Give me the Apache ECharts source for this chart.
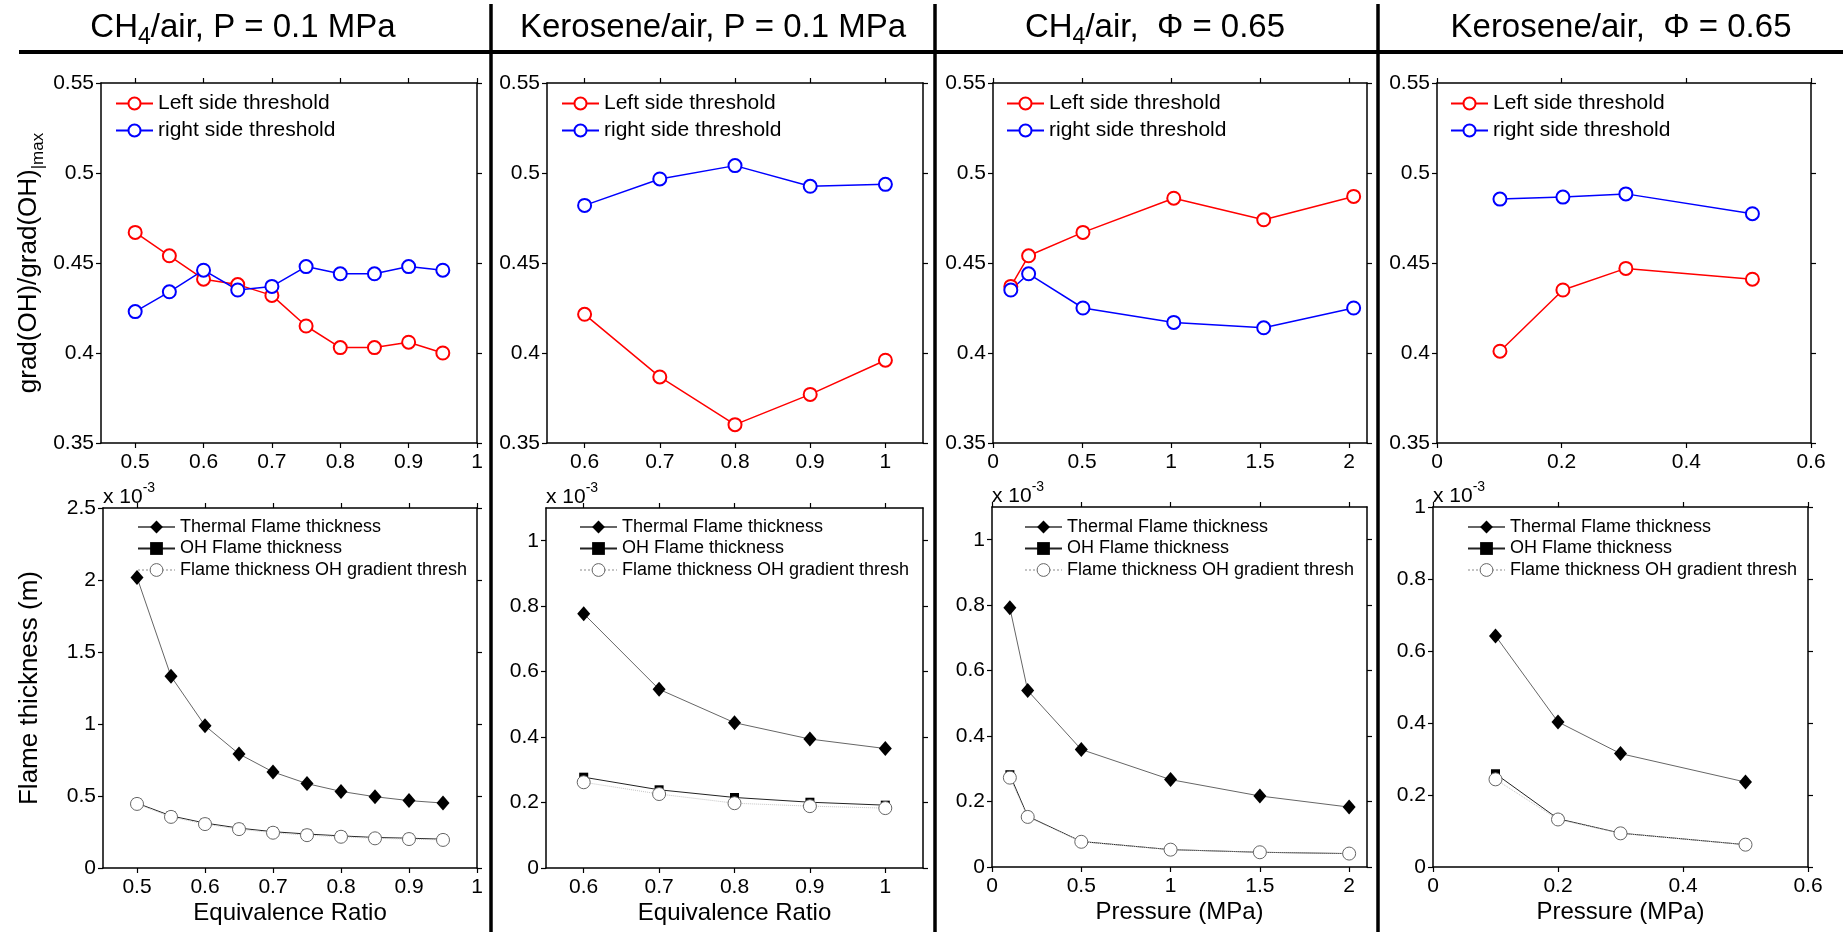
<!DOCTYPE html>
<html><head><meta charset="utf-8">
<script src="https://cdn.jsdelivr.net/npm/echarts@6/dist/echarts.min.js"></script>
<style>html,body{margin:0;padding:0;background:#fff}#c{width:1843px;height:932px}</style>
</head><body><div id="c"></div>
<script>
// ================= DATA =================
// Panel 1: CH4/air, P = 0.1 MPa (x: equivalence ratio)
const phiCH4 = [0.5, 0.55, 0.6, 0.65, 0.7, 0.75, 0.8, 0.85, 0.9, 0.95];
const ch4PhiLeft = [0.467, 0.454, 0.441, 0.438, 0.432, 0.415, 0.403, 0.403, 0.406, 0.400];
const ch4PhiRight = [0.423, 0.434, 0.446, 0.435, 0.437, 0.448, 0.444, 0.444, 0.448, 0.446];
const ch4PhiThermal = [2.018, 1.331, 0.988, 0.792, 0.667, 0.586, 0.532, 0.495, 0.468, 0.451];
const ch4PhiOH = [0.450, 0.362, 0.312, 0.277, 0.252, 0.236, 0.223, 0.212, 0.207, 0.200];
const ch4PhiThresh = [0.445, 0.355, 0.305, 0.270, 0.245, 0.228, 0.217, 0.206, 0.201, 0.195];

// Panel 2: Kerosene/air, P = 0.1 MPa
const phiKer = [0.6, 0.7, 0.8, 0.9, 1.0];
const kerPhiLeft = [0.4215, 0.3867, 0.3602, 0.377, 0.396];
const kerPhiRight = [0.482, 0.4967, 0.5041, 0.4926, 0.4937];
const kerPhiThermal = [0.777, 0.546, 0.444, 0.394, 0.365];
const kerPhiOH = [0.2775, 0.239, 0.2155, 0.201, 0.192];
const kerPhiThresh = [0.262, 0.226, 0.198, 0.189, 0.183];

// Panel 3: CH4/air, Phi = 0.65 (x: pressure MPa)
const pCH4Top = [0.1, 0.2, 0.505, 1.015, 1.52, 2.025];
const ch4PLeft = [0.437, 0.454, 0.467, 0.486, 0.474, 0.487];
const ch4PRight = [0.435, 0.444, 0.425, 0.417, 0.414, 0.425];
const pCH4 = [0.1, 0.2, 0.5, 1.0, 1.5, 2.0];
const ch4PThermal = [0.792, 0.539, 0.359, 0.267, 0.217, 0.183];
const ch4POH = [0.282, 0.155, 0.078, 0.053, 0.045, 0.041];
const ch4PThresh = [0.273, 0.153, 0.077, 0.053, 0.045, 0.041];

// Panel 4: Kerosene/air, Phi = 0.65
const pKerTop = [0.101, 0.202, 0.303, 0.506];
const kerPLeft = [0.401, 0.435, 0.447, 0.441];
const kerPRight = [0.4855, 0.4866, 0.4884, 0.4774];
const pKer = [0.1, 0.2, 0.3, 0.5];
const kerPThermal = [0.642, 0.403, 0.315, 0.236];
const kerPOH = [0.259, 0.134, 0.094, 0.062];
const kerPThresh = [0.2435, 0.132, 0.0935, 0.062];

// Tick labels
const xTicksCH4Phi = [0.5, 0.6, 0.7, 0.8, 0.9, 1];
const xTicksKerPhi = [0.6, 0.7, 0.8, 0.9, 1];
const xTicksCH4P = [0, 0.5, 1, 1.5, 2];
const xTicksKerP = [0, 0.2, 0.4, 0.6];
const yTicksTop = [0.35, 0.4, 0.45, 0.5, 0.55];
const yTicksCH4PhiBot = [0, 0.5, 1, 1.5, 2, 2.5];
const yTicksBot = [0, 0.2, 0.4, 0.6, 0.8, 1];

// Names / texts
const topNames = ['Left side threshold', 'right side threshold'];
const botNames = ['Thermal Flame thickness', 'OH Flame thickness', 'Flame thickness OH gradient thresh'];
const titleParts = [
  ['CH', '4', '/air, P = 0.1 MPa'],
  ['Kerosene/air, P = 0.1 MPa'],
  ['CH', '4', '/air,  \u03A6 = 0.65'],
  ['Kerosene/air,  \u03A6 = 0.65']
];
const xTitles = ['Equivalence Ratio', 'Equivalence Ratio', 'Pressure (MPa)', 'Pressure (MPa)'];
const yTitleTop = ['grad(OH)/grad(OH)', '|max'];
const yTitleBot = 'Flame thickness (m)';
const multiplier = ['x 10', '-3'];

// ================= LAYOUT / STYLE =================
const FONT = '"Liberation Sans", Arial, Helvetica, sans-serif';
const grids = [
  {left: 101, top: 83, width: 376, height: 360},
  {left: 547, top: 83, width: 376, height: 360},
  {left: 993, top: 83, width: 374, height: 360},
  {left: 1437, top: 83, width: 374, height: 360},
  {left: 103, top: 508, width: 374, height: 360},
  {left: 546, top: 508, width: 377, height: 360},
  {left: 992, top: 507, width: 375, height: 360},
  {left: 1433, top: 507, width: 375, height: 360}
];
const xRanges = [[0.45, 1], [0.55, 1.05], [0, 2.1], [0, 0.6]];
const xTickSets = [xTicksCH4Phi, xTicksKerPhi, xTicksCH4P, xTicksKerP];
const botYRanges = [[0, 2.5], [0, 1.1], [0, 1.1], [0, 1]];
const botYTicks = [yTicksCH4PhiBot, yTicksBot, yTicksBot, yTicksBot];
const titleX = [243, 713, 1155, 1621];
const topLegendLeft = [115, 561, 1006, 1450];
const botLegendLeft = [137, 579, 1024, 1467];

const xAxes = [], yAxes = [], series = [], legends = [];

function txt(size, extra) {
  return Object.assign({fontSize: size, fontFamily: FONT, color: '#000'}, extra || {});
}

// returns [xAxisIndex, yAxisIndex] of the main (bottom / left) axes
function addAxes(gi, xr, xt, yr, yt, o) {
  o = o || {};
  const idx = [xAxes.length, yAxes.length];
  const axisLine = {show: true, onZero: false, lineStyle: {color: '#000', width: 1.5}};
  const tick = vals => ({show: true, inside: false, length: 5, customValues: vals, lineStyle: {color: '#000', width: 1.2}});
  const base = {gridIndex: gi, type: 'value', splitLine: {show: false}, axisLine: axisLine};
  xAxes.push(Object.assign({}, base, {
    position: 'bottom', min: xr[0], max: xr[1], axisTick: tick(xt),
    axisLabel: {show: true, customValues: xt, fontSize: 21, fontFamily: FONT, color: '#000', margin: 9},
    name: o.xName || '', nameLocation: 'middle', nameGap: 45,
    nameTextStyle: txt(24, {verticalAlign: 'middle'})
  }));
  const topAx = Object.assign({}, base, {
    position: 'top', min: xr[0], max: xr[1], axisTick: tick(xt), axisLabel: {show: false}
  });
  if (o.mult) {
    topAx.name = '{m|' + multiplier[0] + '}{p|' + multiplier[1] + '}';
    topAx.nameLocation = 'start';
    topAx.nameGap = 0;
    topAx.nameTextStyle = txt(21, {
      align: 'left', verticalAlign: 'middle', padding: [0, 0, 22, 0],
      rich: {m: txt(21), p: txt(14, {padding: [0, 0, 18, 0]})}
    });
  }
  xAxes.push(topAx);
  const left = Object.assign({}, base, {
    position: 'left', min: yr[0], max: yr[1], axisTick: tick(yt),
    axisLabel: {show: true, customValues: yt, fontSize: 21, fontFamily: FONT, color: '#000', margin: 7}
  });
  if (o.yName) {
    left.name = o.yName;
    left.nameLocation = 'middle';
    left.nameRotate = 90;
    left.nameGap = o.yGap;
    left.nameTextStyle = txt(o.ySize || 25, {verticalAlign: 'middle', rich: o.yRich});
  }
  yAxes.push(left);
  yAxes.push(Object.assign({}, base, {
    position: 'right', min: yr[0], max: yr[1], axisTick: tick(yt), axisLabel: {show: false}
  }));
  return idx;
}

function pts(xs, ys) { return xs.map((x, i) => [x, ys[i]]); }
function line(name, ax, xs, ys, style) {
  return Object.assign({type: 'line', name: name, xAxisIndex: ax[0], yAxisIndex: ax[1],
    data: pts(xs, ys), animation: false, silent: true}, style);
}
const styleLeft = {symbol: 'emptyCircle', symbolSize: 13, lineStyle: {color: '#ff0000', width: 1.5}, itemStyle: {color: '#ff0000', borderWidth: 1.5}};
const styleRight = {symbol: 'emptyCircle', symbolSize: 13, lineStyle: {color: '#0000ff', width: 1.5}, itemStyle: {color: '#0000ff', borderWidth: 1.5}};
const styleThermal = {symbol: 'diamond', symbolSize: [13, 15], lineStyle: {color: '#666', width: 1}, itemStyle: {color: '#000'}, z: 2};
const styleOH = {symbol: 'rect', symbolSize: 9, lineStyle: {color: '#222', width: 1}, itemStyle: {color: '#000'}, z: 3};
const styleThresh = {symbol: 'circle', symbolSize: 13, lineStyle: {color: '#c4c4c4', width: 1, type: 'dotted'}, itemStyle: {color: '#fff', borderColor: '#666', borderWidth: 1}, z: 4};

const topData = [
  [phiCH4, ch4PhiLeft, ch4PhiRight],
  [phiKer, kerPhiLeft, kerPhiRight],
  [pCH4Top, ch4PLeft, ch4PRight],
  [pKerTop, kerPLeft, kerPRight]
];
const botData = [
  [phiCH4, ch4PhiThermal, ch4PhiOH, ch4PhiThresh],
  [phiKer, kerPhiThermal, kerPhiOH, kerPhiThresh],
  [pCH4, ch4PThermal, ch4POH, ch4PThresh],
  [pKer, kerPThermal, kerPOH, kerPThresh]
];

for (let p = 0; p < 4; p++) {
  // top panel
  const at = addAxes(p, xRanges[p], xTickSets[p], [0.35, 0.55], yTicksTop, p === 0 ? {
    yName: '{m|' + yTitleTop[0] + '}{s|' + yTitleTop[1] + '}', yGap: 72, ySize: 26,
    yRich: {m: txt(26), s: txt(17, {padding: [18, 0, 0, 0]})}
  } : {});
  const td = topData[p];
  series.push(line(topNames[0], at, td[0], td[1], styleLeft));
  series.push(line(topNames[1], at, td[0], td[2], styleRight));
  legends.push({orient: 'vertical', left: topLegendLeft[p], top: 93, itemWidth: 37, itemHeight: 15, itemGap: 6,
    padding: 0, selectedMode: false, data: topNames, textStyle: txt(21), itemStyle: {borderWidth: 1.5}});

  // bottom panel
  const ab = addAxes(p + 4, xRanges[p], xTickSets[p], botYRanges[p], botYTicks[p], Object.assign({xName: xTitles[p], mult: true},
    p === 0 ? {yName: yTitleBot, yGap: 73, ySize: 26} : {}));
  const bd = botData[p];
  series.push(line(botNames[0], ab, bd[0], bd[1], styleThermal));
  series.push(line(botNames[1], ab, bd[0], bd[2], styleOH));
  series.push(line(botNames[2], ab, bd[0], bd[3], styleThresh));
  legends.push({orient: 'vertical', left: botLegendLeft[p], top: 518, itemWidth: 37, itemHeight: 16, itemGap: 3.5,
    padding: 0, selectedMode: false, data: botNames, textStyle: txt(18), itemStyle: {borderWidth: 1}});
}

// Header decorations and panel titles
const graphic = [
  {type: 'line', shape: {x1: 19, y1: 52, x2: 1843, y2: 52}, style: {stroke: '#000', lineWidth: 4}, silent: true},
  {type: 'line', shape: {x1: 491, y1: 4, x2: 491, y2: 932}, style: {stroke: '#000', lineWidth: 3.5}, silent: true},
  {type: 'line', shape: {x1: 935, y1: 4, x2: 935, y2: 932}, style: {stroke: '#000', lineWidth: 3.5}, silent: true},
  {type: 'line', shape: {x1: 1378, y1: 4, x2: 1378, y2: 932}, style: {stroke: '#000', lineWidth: 3.5}, silent: true}
];
titleParts.forEach((parts, i) => {
  let text;
  if (parts.length === 3) text = '{m|' + parts[0] + '}{s|' + parts[1] + '}{m|' + parts[2] + '}';
  else text = '{m|' + parts[0] + '}';
  graphic.push({type: 'text', x: titleX[i], y: 28, silent: true, style: {
    text: text, align: 'center', verticalAlign: 'middle', fill: '#000',
    fontSize: 33, fontFamily: FONT,
    rich: {
      m: {fontSize: 33, fontFamily: FONT, fill: '#000'},
      s: {fontSize: 23, fontFamily: FONT, fill: '#000', padding: [20, 0, 0, 0]}
    }
  }});
});

const chart = echarts.init(document.getElementById('c'), null, {renderer: 'canvas'});
chart.setOption({
  animation: false,
  backgroundColor: '#fff',
  grid: grids,
  xAxis: xAxes,
  yAxis: yAxes,
  legend: legends,
  series: series,
  graphic: graphic
});
</script>
</body></html>
